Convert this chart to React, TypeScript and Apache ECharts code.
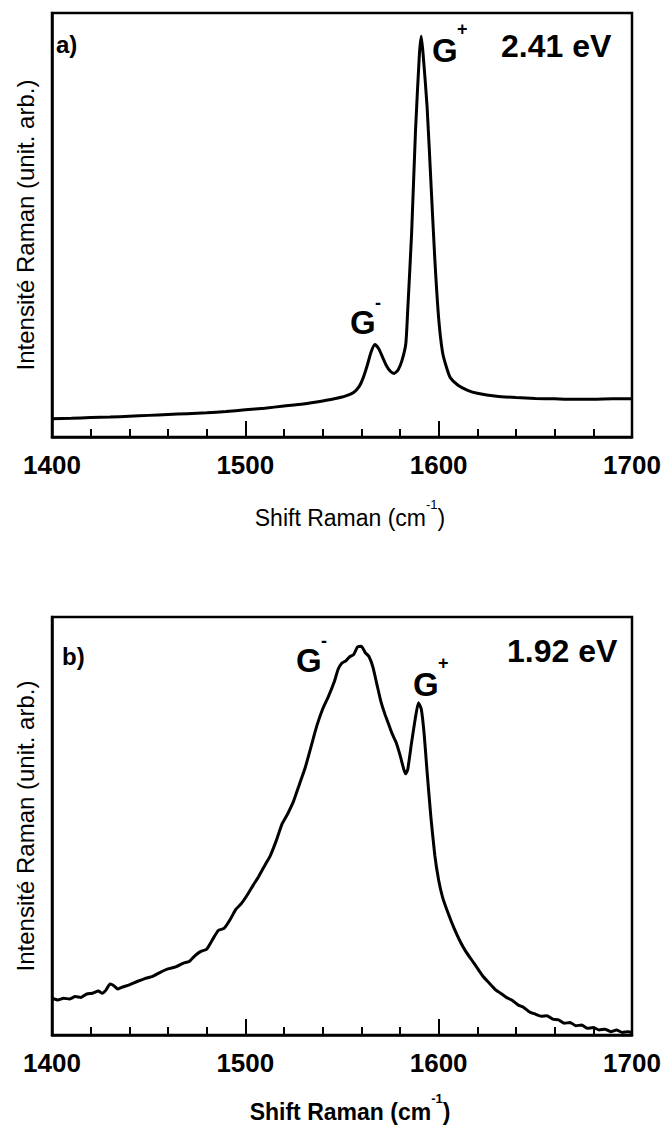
import React, { useEffect, useRef } from "react";
import * as echarts from "echarts";

// ---- Data (normalized Raman intensity, arbitrary units) ----
const xTickValues = [1400, 1500, 1600, 1700];

// Panel a) 2.41 eV
const shiftA = [1400, 1410, 1420, 1430, 1440, 1450, 1460, 1470, 1480, 1490, 1500, 1510, 1520, 1530, 1540, 1546, 1552, 1556, 1559, 1561, 1563, 1565, 1567, 1569, 1571, 1573, 1575, 1577, 1579, 1581, 1583, 1584, 1586, 1588, 1590, 1591, 1592, 1594, 1596, 1598, 1600, 1602, 1604, 1606, 1610, 1615, 1620, 1630, 1640, 1650, 1660, 1670, 1680, 1690, 1700];
const intensityA = [0.043, 0.044, 0.046, 0.047, 0.049, 0.051, 0.053, 0.055, 0.057, 0.06, 0.064, 0.068, 0.073, 0.078, 0.085, 0.09, 0.097, 0.105, 0.12, 0.14, 0.168, 0.2, 0.218, 0.208, 0.188, 0.168, 0.155, 0.15, 0.158, 0.18, 0.22, 0.3, 0.48, 0.72, 0.9, 0.945, 0.9, 0.78, 0.6, 0.42, 0.28, 0.2, 0.165, 0.14, 0.122, 0.11, 0.103, 0.096, 0.093, 0.091, 0.09, 0.089, 0.089, 0.09, 0.09];

// Panel b) 1.92 eV
const shiftB = [1400, 1403, 1406, 1409, 1412, 1415, 1418, 1421, 1424, 1426, 1428, 1430, 1432, 1434, 1436, 1440, 1444, 1448, 1452, 1456, 1460, 1464, 1468, 1471, 1474, 1477, 1480, 1483, 1486, 1489, 1492, 1495, 1498, 1501, 1504, 1507, 1510, 1513, 1516, 1519, 1522, 1525, 1528, 1531, 1534, 1537, 1540, 1543, 1546, 1548, 1550, 1552, 1554, 1556, 1558, 1560, 1562, 1564, 1566, 1568, 1570, 1572, 1574, 1576, 1578, 1580, 1582, 1583, 1584, 1586, 1588, 1589.5, 1591, 1592.5, 1594, 1596, 1598, 1600, 1602, 1605, 1608, 1611, 1614, 1617, 1620, 1623, 1626, 1629, 1632, 1635, 1638, 1641, 1644, 1647, 1650, 1653, 1656, 1659, 1662, 1665, 1668, 1671, 1674, 1677, 1680, 1683, 1686, 1689, 1692, 1695, 1698, 1700];
const intensityB = [0.088, 0.084, 0.088, 0.086, 0.092, 0.09, 0.098, 0.1, 0.105, 0.1, 0.108, 0.122, 0.118, 0.11, 0.114, 0.12, 0.128, 0.135, 0.14, 0.15, 0.158, 0.163, 0.172, 0.176, 0.19, 0.2, 0.205, 0.228, 0.25, 0.255, 0.275, 0.3, 0.315, 0.335, 0.358, 0.38, 0.405, 0.43, 0.465, 0.505, 0.53, 0.56, 0.6, 0.64, 0.69, 0.74, 0.78, 0.81, 0.845, 0.875, 0.89, 0.895, 0.905, 0.91, 0.928, 0.93, 0.915, 0.905, 0.88, 0.84, 0.8, 0.77, 0.745, 0.72, 0.7, 0.67, 0.635, 0.625, 0.635, 0.7, 0.76, 0.795, 0.78, 0.72, 0.63, 0.52, 0.43, 0.37, 0.33, 0.29, 0.255, 0.225, 0.2, 0.18, 0.16, 0.14, 0.125, 0.11, 0.1, 0.09, 0.083, 0.072, 0.066, 0.055, 0.05, 0.045, 0.046, 0.038, 0.036, 0.028, 0.03, 0.022, 0.024, 0.016, 0.018, 0.012, 0.014, 0.008, 0.012, 0.006, 0.008, 0.006];

const FONT = "'Liberation Sans', Arial, Helvetica, sans-serif";

export default function App() {
  const ref = useRef<HTMLDivElement>(null);
  useEffect(() => {
    document.body.style.margin = "0";
    if (!ref.current) return;
    const chart = echarts.init(ref.current, null, { renderer: "svg" });
    const grids = [
      { left: 52, top: 13, width: 580, height: 424 },
      { left: 52, top: 617, width: 580, height: 418 },
    ];
    const xAxis = grids.map((_, i) => ({
      type: "value",
      gridIndex: i,
      min: xTickValues[0],
      max: xTickValues[xTickValues.length - 1],
      interval: 100,
      axisLine: { show: true, lineStyle: { color: "#000", width: 2.5 } },
      axisTick: { show: true, inside: true, length: 16, lineStyle: { color: "#000", width: 2 } },
      minorTick: { show: true, splitNumber: 5, length: 8, lineStyle: { color: "#000", width: 2 } },
      splitLine: { show: false },
      axisLabel: {
        margin: 15,
        color: "#000",
        fontSize: 26,
        fontWeight: "bold",
        fontFamily: FONT,
        formatter: (v: number) => String(v),
      },
    }));
    const yAxis = grids.map((_, i) => ({
      type: "value",
      gridIndex: i,
      min: 0,
      max: 1,
      axisLine: { show: true, lineStyle: { color: "#000", width: 2.5 } },
      axisTick: { show: false },
      axisLabel: { show: false },
      splitLine: { show: false },
    }));
    const t = (text: string, x: number, y: number, size: number, bold: boolean, extra: any = {}) => ({
      type: "text",
      x,
      y,
      ...extra,
      style: {
        text,
        fill: "#000",
        fontSize: size,
        fontWeight: bold ? "bold" : "normal",
        fontFamily: FONT,
        textAlign: extra.align || "left",
        align: extra.align || "left",
        textVerticalAlign: "middle",
        verticalAlign: "middle",
      },
    });
    const axisTitle = (x: number, y: number, bold: boolean) => ({
      type: "text",
      x,
      y,
      style: {
        text: "{a|Shift Raman (cm}{s|-1}{a|)}",
        align: "center",
        verticalAlign: "middle",
        textAlign: "center",
        textVerticalAlign: "middle",
        fill: "#000",
        rich: {
          a: { fontSize: 23, lineHeight: 40, fontWeight: bold ? "bold" : "normal", fontFamily: FONT, fill: "#000", color: "#000" },
          s: { fontSize: 13, lineHeight: 14, fontWeight: bold ? "bold" : "normal", fontFamily: FONT, fill: "#000", color: "#000", verticalAlign: "top" },
        },
      },
    });
    const graphic: any[] = [
      // panel a
      t("a)", 56, 44, 24, true),
      t("G", 432, 50, 33, true),
      t("+", 457, 29, 18, true),
      t("2.41 eV", 501, 46, 32, true),
      t("G", 350, 322, 33, true),
      t("-", 375, 303, 18, true),
      // panel b
      t("b)", 62, 656, 24, true),
      t("G", 296, 660, 33, true),
      t("-", 321, 641, 18, true),
      t("G", 413, 684, 33, true),
      t("+", 438, 663, 18, true),
      t("1.92 eV", 507, 651, 32, true),
      // axis titles
      axisTitle(350, 518, false),
      axisTitle(350, 1112, true),
      t("Intensité Raman (unit. arb.)", 25, 225, 24, false, { rotation: Math.PI / 2, align: "center" }),
      t("Intensité Raman (unit. arb.)", 25, 826, 24, false, { rotation: Math.PI / 2, align: "center" }),
    ];
    chart.setOption({
      animation: false,
      backgroundColor: "#fff",
      grid: grids.map((g) => ({ ...g, show: true, borderColor: "#000", borderWidth: 2.5, backgroundColor: "transparent" })),
      xAxis,
      yAxis,
      graphic,
      series: [
        {
          type: "line",
          xAxisIndex: 0,
          yAxisIndex: 0,
          data: shiftA.map((x, i) => [x, intensityA[i]]),
          showSymbol: false,
          smooth: 0.2,
          lineStyle: { color: "#000", width: 3 },
        },
        {
          type: "line",
          xAxisIndex: 1,
          yAxisIndex: 1,
          data: shiftB.map((x, i) => [x, intensityB[i]]),
          showSymbol: false,
          smooth: 0.15,
          lineStyle: { color: "#000", width: 3 },
        },
      ],
    });
    return () => chart.dispose();
  }, []);
  return <div ref={ref} style={{ width: 672, height: 1131 }} />;
}
